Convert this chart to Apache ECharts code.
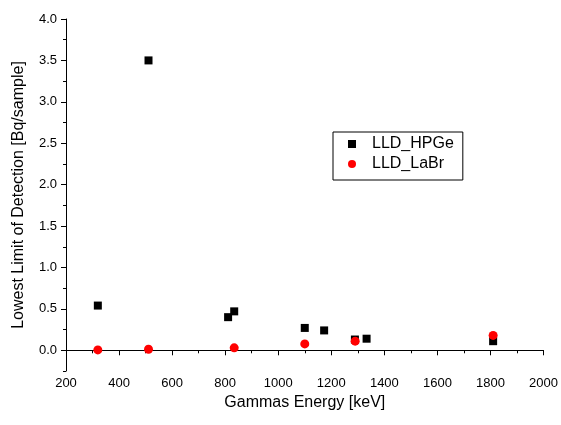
<!DOCTYPE html>
<html>
<head>
<meta charset="utf-8">
<script src="https://cdn.jsdelivr.net/npm/echarts@6/dist/echarts.min.js"></script>
<style>
  html, body { margin: 0; padding: 0; background: #fff; }
  #chart { width: 561px; height: 425px; }
</style>
</head>
<body>
<div id="chart"></div>
<script>
// gamma line energies (keV) and lowest limit of detection (Bq/sample)
const hpgeEnergy = [320, 511, 811, 834, 1100, 1173, 1289, 1333, 1810];
const hpgeLld = [0.54, 3.50, 0.40, 0.47, 0.27, 0.24, 0.13, 0.14, 0.11];
const labrEnergy = [320, 511, 834, 1100, 1290, 1810];
const labrLld = [0.005, 0.012, 0.03, 0.077, 0.11, 0.18];

const yMajorTicks = [0, 0.5, 1, 1.5, 2, 2.5, 3, 3.5, 4];
const yMinorTicks = [-0.25, 0.25, 0.75, 1.25, 1.75, 2.25, 2.75, 3.25, 3.75];

const font = 'Liberation Sans, Arial, sans-serif';

const pairs = (xs, ys) => xs.map((x, i) => [x, ys[i]]);

const chart = echarts.init(document.getElementById('chart'));

chart.setOption({
  animation: false,
  backgroundColor: '#fff',
  textStyle: { fontFamily: font, color: '#000' },
  grid: { left: 66, right: 17, top: 19, bottom: 54 },
  legend: {
    orient: 'vertical',
    left: 333,
    top: 132,
    borderColor: '#000',
    borderWidth: 1,
    borderRadius: 0,
    padding: [4, 9, 8, 15],
    itemWidth: 8,
    itemHeight: 8,
    itemGap: 4,
    textStyle: { fontFamily: font, fontSize: 16, color: '#000', padding: [0, 0, 0, 11] },
    data: ['LLD_HPGe', 'LLD_LaBr']
  },
  xAxis: {
    type: 'value',
    min: 200,
    max: 2000,
    interval: 200,
    name: 'Gammas Energy [keV]',
    nameLocation: 'middle',
    nameGap: 14,
    nameTextStyle: { fontFamily: font, fontSize: 16, color: '#000' },
    axisLine: { lineStyle: { color: '#000', width: 1 } },
    axisTick: { inside: false, length: 5, lineStyle: { color: '#000' } },
    minorTick: { show: true, splitNumber: 2, length: 3, lineStyle: { color: '#000' } },
    axisLabel: { fontFamily: font, fontSize: 13, color: '#000', margin: 6, formatter: v => String(v) },
    splitLine: { show: false }
  },
  yAxis: [
    {
      type: 'value',
      min: -0.25,
      max: 4,
      position: 'left',
      name: 'Lowest Limit of Detection [Bq/sample]',
      nameLocation: 'middle',
      nameGap: 39,
      nameTextStyle: { fontFamily: font, fontSize: 16, color: '#000' },
      axisLine: { show: true, lineStyle: { color: '#000', width: 1 } },
      axisTick: { show: true, length: 5, customValues: yMajorTicks, lineStyle: { color: '#000' } },
      axisLabel: {
        fontFamily: font, fontSize: 13, color: '#000', margin: 9,
        customValues: yMajorTicks,
        formatter: v => v.toFixed(1)
      },
      splitLine: { show: false }
    },
    {
      type: 'value',
      min: -0.25,
      max: 4,
      position: 'left',
      axisLine: { show: false },
      axisTick: { show: true, length: 3, customValues: yMinorTicks, lineStyle: { color: '#000' } },
      axisLabel: { show: false },
      splitLine: { show: false }
    }
  ],
  series: [
    {
      name: 'LLD_HPGe',
      type: 'scatter',
      symbol: 'rect',
      symbolSize: 8,
      itemStyle: { color: '#000', opacity: 1 },
      data: pairs(hpgeEnergy, hpgeLld)
    },
    {
      name: 'LLD_LaBr',
      type: 'scatter',
      symbol: 'circle',
      symbolSize: 9,
      itemStyle: { color: '#ff0000', opacity: 1 },
      data: pairs(labrEnergy, labrLld)
    }
  ]
});
</script>
</body>
</html>
